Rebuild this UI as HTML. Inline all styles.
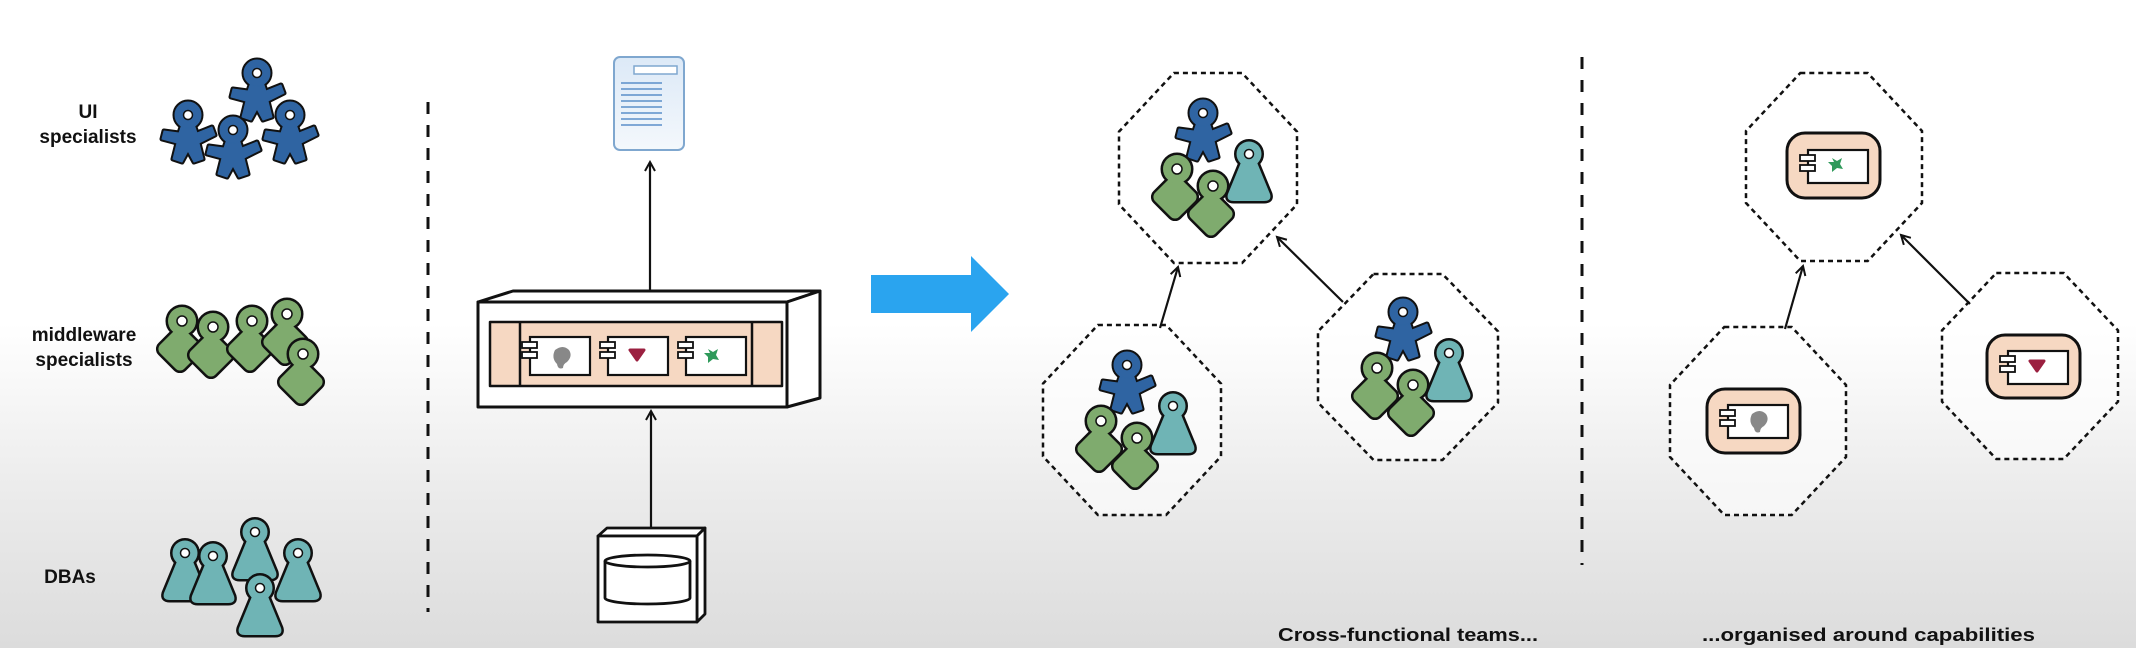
<!DOCTYPE html>
<html><head><meta charset="utf-8"><style>
html,body{margin:0;padding:0;}
body{width:2136px;height:648px;overflow:hidden;}
svg{display:block;}
text{font-family:"Liberation Sans",sans-serif;font-weight:bold;fill:#111;}
</style></head><body>
<svg width="2136" height="648" viewBox="0 0 2136 648" xmlns="http://www.w3.org/2000/svg">
<defs>
<linearGradient id="bg" x1="0" y1="0" x2="0" y2="1">
<stop offset="0" stop-color="#ffffff"/>
<stop offset="0.5" stop-color="#ffffff"/>
<stop offset="0.75" stop-color="#ececec"/>
<stop offset="1" stop-color="#dcdcdc"/>
</linearGradient>
<linearGradient id="docg" x1="0" y1="0" x2="0" y2="1">
<stop offset="0" stop-color="#dce9f7"/>
<stop offset="1" stop-color="#f4f8fc"/>
</linearGradient>
<g id="ui">
<g stroke="#111" stroke-width="5" stroke-linejoin="round" fill="#111">
<polygon points="-6,9 6,9 9,18 24,12 27,20 11,28 15,44 6,47 0,36 -6,47 -15,44 -11,28 -26,24 -24,16 -9,18"/>
<circle cx="0" cy="0" r="13"/>
</g>
<g fill="#2f64a2" stroke="#2f64a2" stroke-width="1" stroke-linejoin="round">
<polygon points="-6,9 6,9 9,18 24,12 27,20 11,28 15,44 6,47 0,36 -6,47 -15,44 -11,28 -26,24 -24,16 -9,18"/>
<circle cx="0" cy="0" r="13"/>
</g>
<circle cx="0" cy="0" r="4.5" fill="#fff" stroke="#111" stroke-width="1.5"/>
</g>
<g id="mw">
<g stroke="#111" stroke-width="5" fill="#111">
<rect x="-19" y="11" width="34" height="34" rx="6" transform="rotate(45 -2 28)"/>
<circle cx="0" cy="0" r="14"/>
</g>
<g fill="#7fab6e">
<rect x="-19" y="11" width="34" height="34" rx="6" transform="rotate(45 -2 28)"/>
<circle cx="0" cy="0" r="14"/>
</g>
<circle cx="0" cy="0" r="5" fill="#fff" stroke="#111" stroke-width="1.5"/>
</g>
<g id="db">
<g stroke="#111" stroke-width="5" fill="#111" stroke-linejoin="round">
<path d="M-7,6 L-21,40 Q-23,47 -15,47 L15,47 Q23,47 21,40 L7,6 Z"/>
<circle cx="0" cy="0" r="12.5"/>
</g>
<g fill="#6fb4b5">
<path d="M-7,6 L-21,40 Q-23,47 -15,47 L15,47 Q23,47 21,40 L7,6 Z"/>
<circle cx="0" cy="0" r="12.5"/>
</g>
<circle cx="0" cy="0" r="4.5" fill="#fff" stroke="#111" stroke-width="1.5"/>
</g>
<g id="team">
<use href="#ui" x="-5" y="-55"/>
<use href="#db" x="41" y="-14"/>
<use href="#mw" x="-31" y="1"/>
<use href="#mw" x="5" y="18"/>
</g>
<polygon id="oct" points="-0.383,-1 0.383,-1 1,-0.383 1,0.383 0.383,1 -0.383,1 -1,0.383 -1,-0.383" fill="#fff" fill-opacity="0.6" stroke="#111" stroke-width="2.5" stroke-dasharray="5 4" vector-effect="non-scaling-stroke"/>
<marker id="ah" viewBox="0 0 12 12" refX="10" refY="6" markerWidth="12" markerHeight="12" markerUnits="userSpaceOnUse" orient="auto">
<path d="M1,1 L10,6 L1,11" fill="none" stroke="#111" stroke-width="2"/>
</marker>
<g id="cap">
<rect x="-10" y="-3" width="15" height="6" fill="#fff" stroke="#111" stroke-width="1.8"/>
<rect x="-10" y="7" width="15" height="6" fill="#fff" stroke="#111" stroke-width="1.8"/>
</g>
</defs>
<rect width="2136" height="648" fill="url(#bg)"/>

<text x="88" y="118" font-size="19" text-anchor="middle">UI</text>
<text x="88" y="143" font-size="19" text-anchor="middle">specialists</text>
<text x="84" y="341" font-size="19" text-anchor="middle">middleware</text>
<text x="84" y="366" font-size="19" text-anchor="middle">specialists</text>
<text x="70" y="583" font-size="19" text-anchor="middle">DBAs</text>

<use href="#ui" x="257" y="73"/>
<use href="#ui" x="290" y="115"/>
<use href="#ui" x="188" y="115"/>
<use href="#ui" x="233" y="130"/>
<use href="#mw" x="182" y="321"/>
<use href="#mw" x="213" y="327"/>
<use href="#mw" x="252" y="321"/>
<use href="#mw" x="287" y="314"/>
<use href="#mw" x="303" y="354"/>
<use href="#db" x="185" y="553"/>
<use href="#db" x="213" y="556"/>
<use href="#db" x="255" y="532"/>
<use href="#db" x="298" y="553"/>
<use href="#db" x="260" y="588"/>

<line x1="428" y1="102" x2="428" y2="612" stroke="#111" stroke-width="3" stroke-dasharray="12 11"/>

<rect x="614" y="57" width="70" height="93" rx="6" fill="url(#docg)" stroke="#7fa7cf" stroke-width="2"/>
<rect x="634" y="66" width="43" height="8" fill="#fff" stroke="#7fa7cf" stroke-width="1.5"/>
<g stroke="#5b8fc9" stroke-width="1.6">
<line x1="621" y1="83" x2="662" y2="83"/><line x1="621" y1="89" x2="662" y2="89"/>
<line x1="621" y1="95" x2="662" y2="95"/><line x1="621" y1="101" x2="662" y2="101"/>
<line x1="621" y1="107" x2="662" y2="107"/><line x1="621" y1="113" x2="662" y2="113"/>
<line x1="621" y1="119" x2="662" y2="119"/><line x1="621" y1="125" x2="662" y2="125"/>
</g>
<line x1="650" y1="291" x2="650" y2="162" stroke="#111" stroke-width="2.2" marker-end="url(#ah)"/>

<g stroke="#111" stroke-width="3" stroke-linejoin="round">
<polygon points="478,302 513,291 820,291 787,302" fill="#fff"/>
<polygon points="787,302 820,291 820,398 787,407" fill="#fff"/>
<rect x="478" y="302" width="309" height="105" fill="#fff"/>
<rect x="490" y="322" width="292" height="64" fill="#f6d8c2" stroke-width="2.5"/>
<line x1="520" y1="322" x2="520" y2="386" stroke-width="2.5"/>
<line x1="752" y1="322" x2="752" y2="386" stroke-width="2.5"/>
</g>
<g stroke="#111" stroke-width="2.2" fill="#fff">
<rect x="530" y="337" width="60" height="38"/>
<rect x="608" y="337" width="60" height="38"/>
<rect x="686" y="337" width="60" height="38"/>
</g>
<use href="#cap" x="532" y="345"/>
<use href="#cap" x="610" y="345"/>
<use href="#cap" x="688" y="345"/>
<path d="M555,350 q8,-6 14,0 q4,6 -2,12 q-4,2 -4,6 q-5,2 -6,-4 q-6,-6 -2,-14z" fill="#888"/>
<path d="M630,350 l14,0 l-7,10z" fill="#9b2040" stroke="#9b2040" stroke-width="3" stroke-linejoin="round"/>
<path d="M708,349 l5,3 l5,-3 l-2,6 l3,5 l-6,-1 l-5,4 l0,-6 l-4,-4 l6,0z" fill="#2e9a5a"/>
<line x1="651" y1="528" x2="651" y2="411" stroke="#111" stroke-width="2.2" marker-end="url(#ah)"/>

<g stroke="#111" stroke-width="2.8" stroke-linejoin="round" fill="#fff">
<polygon points="598,536 607,528 705,528 697,536"/>
<polygon points="697,536 705,528 705,614 697,622"/>
<rect x="598" y="536" width="99" height="86"/>
<path d="M605,561 L605,598 A42.5,6 0 0 0 690,598 L690,561"/>
<ellipse cx="647.5" cy="561" rx="42.5" ry="6"/>
</g>

<polygon points="871,275 971,275 971,256 1009,294 971,332 971,313 871,313" fill="#2aa4ef"/>

<use href="#oct" transform="translate(1208,168) scale(89,95)"/>
<use href="#oct" transform="translate(1132,420) scale(89,95)"/>
<use href="#oct" transform="translate(1408,367) scale(90,93)"/>
<use href="#team" x="1208" y="168"/>
<use href="#team" x="1132" y="420"/>
<use href="#team" x="1408" y="367"/>
<line x1="1160" y1="328" x2="1178" y2="267" stroke="#111" stroke-width="2.2" marker-end="url(#ah)"/>
<line x1="1343" y1="302" x2="1277" y2="237" stroke="#111" stroke-width="2.2" marker-end="url(#ah)"/>

<line x1="1582" y1="57" x2="1582" y2="565" stroke="#111" stroke-width="3" stroke-dasharray="12 11"/>

<use href="#oct" transform="translate(1834,167) scale(88,94)"/>
<use href="#oct" transform="translate(1758,421) scale(88,94)"/>
<use href="#oct" transform="translate(2030,366) scale(88,93)"/>
<line x1="1785" y1="329" x2="1803" y2="266" stroke="#111" stroke-width="2.2" marker-end="url(#ah)"/>
<line x1="1970" y1="304" x2="1901" y2="235" stroke="#111" stroke-width="2.2" marker-end="url(#ah)"/>

<g stroke="#111" stroke-width="3">
<rect x="1787" y="133" width="93" height="65" rx="18" fill="#f6d8c2"/>
<rect x="1707" y="389" width="93" height="64" rx="18" fill="#f6d8c2"/>
<rect x="1987" y="335" width="93" height="63" rx="18" fill="#f6d8c2"/>
</g>
<g stroke="#111" stroke-width="2.2" fill="#fff">
<rect x="1808" y="150" width="60" height="33"/>
<rect x="1728" y="405" width="60" height="33"/>
<rect x="2008" y="351" width="60" height="33"/>
</g>
<use href="#cap" x="1810" y="158"/>
<use href="#cap" x="1730" y="413"/>
<use href="#cap" x="2010" y="359"/>
<path d="M1832,158 l5,3 l5,-3 l-2,6 l3,5 l-6,-1 l-5,4 l0,-6 l-4,-4 l6,0z" fill="#2e9a5a"/>
<path d="M1752,414 q8,-6 14,0 q4,6 -2,12 q-4,2 -4,6 q-5,2 -6,-4 q-6,-6 -2,-14z" fill="#888"/>
<path d="M2030,361 l14,0 l-7,10z" fill="#9b2040" stroke="#9b2040" stroke-width="3" stroke-linejoin="round"/>

<text x="1278" y="641" font-size="18" textLength="260" lengthAdjust="spacingAndGlyphs">Cross-functional teams...</text>
<text x="1702" y="641" font-size="18" textLength="333" lengthAdjust="spacingAndGlyphs">...organised around capabilities</text>
</svg>
</body></html>
